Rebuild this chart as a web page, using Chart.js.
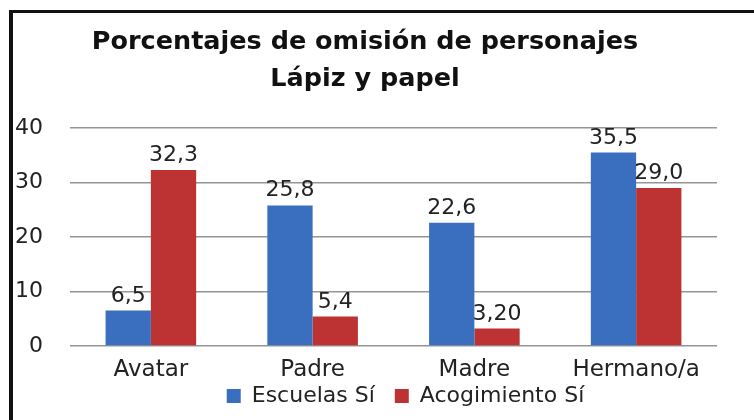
<!DOCTYPE html>
<html>
<head>
<meta charset="utf-8">
<script src="https://cdn.jsdelivr.net/npm/chart.js@4.4.1/dist/chart.umd.min.js"></script>
<style>
  html, body { margin: 0; padding: 0; background: #fff; }
  #frame {
    position: absolute; left: 9px; top: 10px;
    width: 741px; height: 407px;
    border-left: 4px solid #111; border-top: 3px solid #111;
  }
  #frame canvas { display: block; }
</style>
</head>
<body>
<div id="frame"><canvas id="chart" width="741" height="407"></canvas></div>
<script>
const categories = ['Avatar', 'Padre', 'Madre', 'Hermano/a'];
const escuelas = [6.5, 25.8, 22.6, 35.5];
const acogimiento = [32.3, 5.4, 3.2, 29.0];
const escuelasLabels = ['6,5', '25,8', '22,6', '35,5'];
const acogimientoLabels = ['32,3', '5,4', '3,20', '29,0'];
const yTicks = [0, 10, 20, 30, 40];

const FONT = '"DejaVu Sans", sans-serif';
const TEXT = '#222';

// value labels above each bar
const barLabels = {
    id: 'barLabels',
    afterDatasetsDraw(chart) {
        const ctx = chart.ctx;
        const texts = [escuelasLabels, acogimientoLabels];
        ctx.save();
        ctx.font = '22px ' + FONT;
        ctx.fillStyle = TEXT;
        ctx.textAlign = 'center';
        ctx.textBaseline = 'alphabetic';
        chart.data.datasets.forEach((ds, i) => {
            chart.getDatasetMeta(i).data.forEach((bar, j) => {
                ctx.fillText(texts[i][j], bar.x, bar.y - 9);
            });
        });
        ctx.restore();
    }
};

// the legend sits close under the category labels, so let them draw past the axis box;
// the legend also sits a bit right of the plot centre
const layoutTweaks = {
    id: 'layoutTweaks',
    afterLayout(chart) {
        chart.scales.x.bottom = chart.height;
        chart.legend.left += 12;
        chart.legend.right += 12;
    }
};

Chart.defaults.font.family = FONT;
Chart.defaults.color = TEXT;

new Chart(document.getElementById('chart'), {
    type: 'bar',
    data: {
        labels: categories,
        datasets: [
            { label: 'Escuelas Sí', data: escuelas, backgroundColor: '#3a6ebf', borderWidth: 0 },
            { label: 'Acogimiento Sí', data: acogimiento, backgroundColor: '#bd3333', borderWidth: 0 }
        ]
    },
    plugins: [barLabels, layoutTweaks],
    options: {
        responsive: false,
        animation: false,
        categoryPercentage: 0.56,
        barPercentage: 1,
        layout: { padding: { left: 0, right: 37, top: 0, bottom: 3 } },
        plugins: {
            title: {
                display: true,
                text: ['Porcentajes de omisión de personajes', 'Lápiz y papel'],
                font: { size: 25.5, weight: 'bold', family: FONT, lineHeight: 37 / 25.5 },
                color: '#111',
                padding: { top: 11, bottom: 30 }
            },
            legend: {
                position: 'bottom',
                fullSize: false,
                labels: {
                    boxWidth: 14,
                    boxHeight: 14,
                    padding: 20,
                    font: { size: 22 },
                    color: TEXT
                }
            },
            tooltip: { enabled: false }
        },
        scales: {
            x: {
                afterFit(scale) { scale.height = 19; },
                grid: { display: false, drawTicks: false },
                border: { display: false },
                ticks: { font: { size: 23 }, color: TEXT, padding: 10 }
            },
            y: {
                min: 0,
                max: 40,
                afterFit(scale) { scale.width = 57; },
                afterBuildTicks(scale) { scale.ticks = yTicks.map(v => ({ value: v })); },
                grid: { color: '#959595', lineWidth: 1.5, drawTicks: false },
                border: { display: false },
                ticks: { font: { size: 22 }, color: TEXT, padding: 27 }
            }
        }
    }
});
</script>
</body>
</html>
